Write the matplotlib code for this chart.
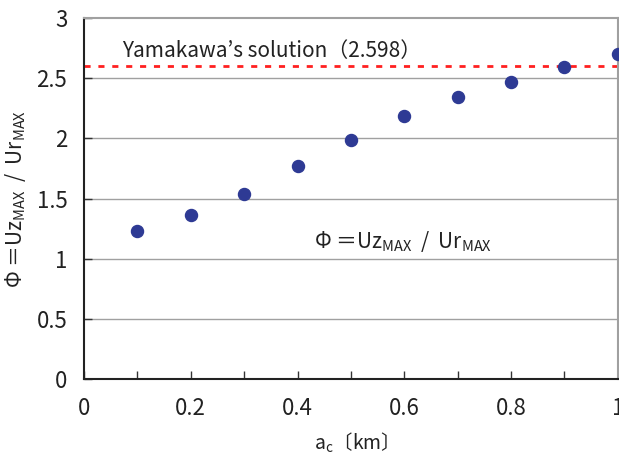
import matplotlib.pyplot as plt

plt.rcParams['font.family'] = ['Noto Sans CJK JP', 'DejaVu Sans']
plt.rcParams['mathtext.fontset'] = 'custom'
plt.rcParams['mathtext.rm'] = 'Noto Sans CJK JP'
plt.rcParams['mathtext.it'] = 'Noto Sans CJK JP'

a_c = [0.1, 0.2, 0.3, 0.4, 0.5, 0.6, 0.7, 0.8, 0.9, 1.0]
phi = [1.23, 1.36, 1.54, 1.77, 1.99, 2.19, 2.34, 2.47, 2.59, 2.70]
yamakawa = 2.598

fig = plt.figure(figsize=(6.19, 4.63), dpi=100)
ax = fig.add_axes([0.1357, 0.1814, 0.8623, 0.7796])

for y in [0.5, 1.0, 1.5, 2.0, 2.5]:
    ax.axhline(y, color="#a0a0a0", lw=1.0, zorder=1)

ax.axhline(yamakawa, color="#ff2020", lw=2.0, ls=(0, (2.2, 2.8)), zorder=2)
ax.scatter(a_c, phi, s=75, color="#2e3a94", zorder=3, clip_on=False)

ax.set_xlim(0, 1)
ax.set_ylim(0, 3)
ax.set_xticks([0, 0.2, 0.4, 0.6, 0.8, 1.0])
ax.set_xticklabels(["0", "0.2", "0.4", "0.6", "0.8", "1"])
ax.set_xticks([0.1, 0.3, 0.5, 0.7, 0.9], minor=True)
ax.set_yticks([0, 0.5, 1, 1.5, 2, 2.5, 3])
ax.set_yticklabels(["0", "0.5", "1", "1.5", "2", "2.5", "3"])
ax.tick_params(axis="both", which="both", direction="in", length=6, width=1.0,
               labelsize=16, color="#333333", labelcolor="#222222")
ax.tick_params(axis="x", pad=13)
ax.tick_params(axis="y", pad=12)

for side in ["top", "right"]:
    ax.spines[side].set_color("#a0a0a0")
    ax.spines[side].set_linewidth(1.5)
for side in ["left", "bottom"]:
    ax.spines[side].set_color("#222222")
    ax.spines[side].set_linewidth(1.5)

ax.text(0.072, 2.68, "Yamakawa\u2019s solution\uff082.598\uff09", fontsize=15, color="#222222")
ax.text(0.43, 1.09, "\u03a6 \uff1dUz$_{\\mathrm{MAX}}$  /  Ur$_{\\mathrm{MAX}}$", fontsize=15, color="#222222")

ax.set_xlabel("a$_{\\mathrm{c}}$\u3014km\u3015", fontsize=14, labelpad=8, color="#222222")
ax.set_ylabel("\u03a6 \uff1dUz$_{\\mathrm{MAX}}$  /  Ur$_{\\mathrm{MAX}}$", fontsize=15, labelpad=6, color="#222222")

fig.savefig("out.png", dpi=100)
